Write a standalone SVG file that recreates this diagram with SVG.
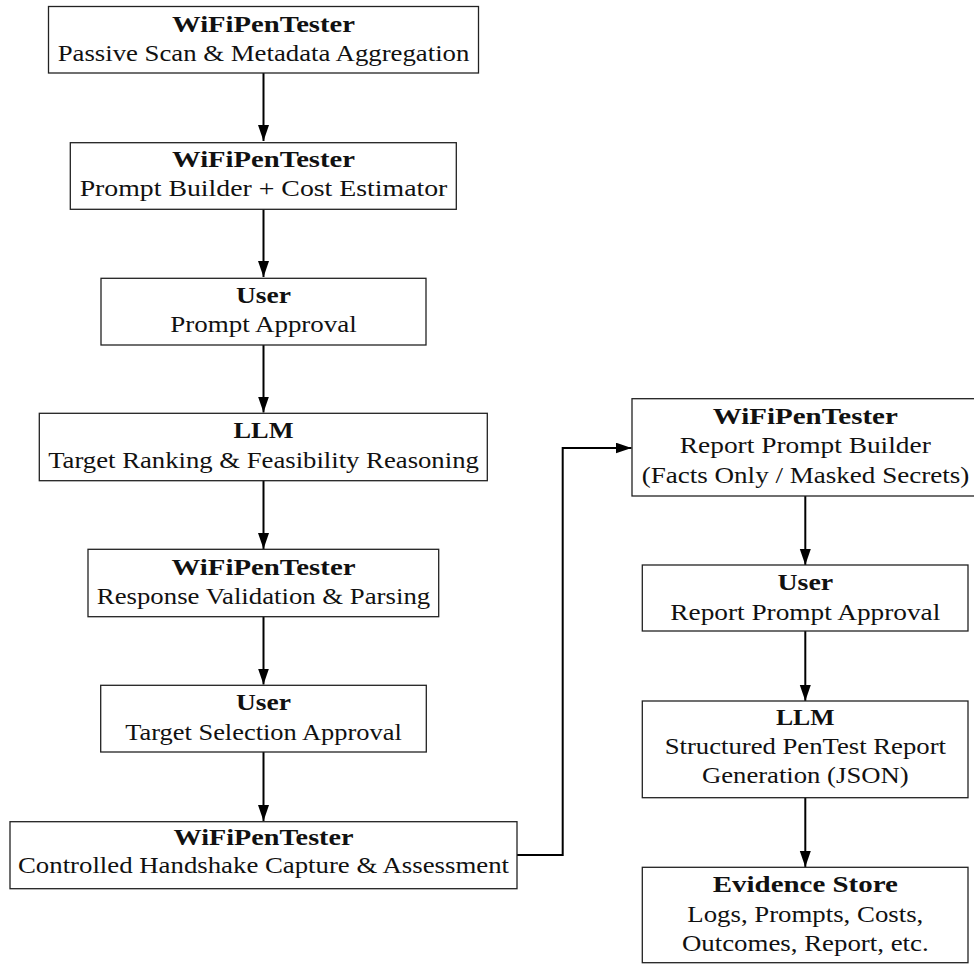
<svg xmlns="http://www.w3.org/2000/svg" width="974" height="965" viewBox="0 0 974 965">
<style>
.box{fill:#fff;stroke:#222;stroke-width:1.3}
.t{font-family:"Liberation Serif","Times New Roman",serif;font-size:24px;fill:#111;text-anchor:middle}
.b{font-weight:bold}
.arr{fill:none;stroke:#000;stroke-width:2}
</style>
<defs>
<marker id="ah" markerUnits="userSpaceOnUse" markerWidth="16" markerHeight="12" refX="16" refY="5.5" orient="auto">
<path d="M0,0 L16,5.5 L0,11 z" fill="#000"/>
</marker>
</defs>
<rect width="974" height="965" fill="#fff"/>
<g id="connectors">
<line class="arr" x1="263.5" y1="73" x2="263.5" y2="141" marker-end="url(#ah)"/>
<line class="arr" x1="263.5" y1="209.3" x2="263.5" y2="277" marker-end="url(#ah)"/>
<line class="arr" x1="263.5" y1="345" x2="263.5" y2="412.5" marker-end="url(#ah)"/>
<line class="arr" x1="263.5" y1="480.7" x2="263.5" y2="549" marker-end="url(#ah)"/>
<line class="arr" x1="263.5" y1="616.7" x2="263.5" y2="684.5" marker-end="url(#ah)"/>
<line class="arr" x1="263.5" y1="752" x2="263.5" y2="821" marker-end="url(#ah)"/>
<polyline class="arr" points="517,855 562.7,855 562.7,448 631.5,448" marker-end="url(#ah)"/>
<line class="arr" x1="805.3" y1="496" x2="805.3" y2="565" marker-end="url(#ah)"/>
<line class="arr" x1="805.3" y1="631" x2="805.3" y2="701" marker-end="url(#ah)"/>
<line class="arr" x1="805.3" y1="797.7" x2="805.3" y2="867" marker-end="url(#ah)"/>
</g>
<g id="n1">
<rect class="box" x="48.5" y="6.5" width="430" height="66.5"/>
<text class="t b" x="263.5" y="32" textLength="183" lengthAdjust="spacingAndGlyphs">WiFiPenTester</text>
<text class="t" x="263.5" y="61" textLength="411.7" lengthAdjust="spacingAndGlyphs">Passive Scan &amp; Metadata Aggregation</text>
</g>
<g id="n2">
<rect class="box" x="70.3" y="142.7" width="386" height="66.6"/>
<text class="t b" x="263.5" y="166.7" textLength="183" lengthAdjust="spacingAndGlyphs">WiFiPenTester</text>
<text class="t" x="263.5" y="196" textLength="367.7" lengthAdjust="spacingAndGlyphs">Prompt Builder + Cost Estimator</text>
</g>
<g id="n3">
<rect class="box" x="101" y="278.3" width="325" height="66.7"/>
<text class="t b" x="263.5" y="303.3" textLength="55" lengthAdjust="spacingAndGlyphs">User</text>
<text class="t" x="263.5" y="331.7" textLength="186.7" lengthAdjust="spacingAndGlyphs">Prompt Approval</text>
</g>
<g id="n4">
<rect class="box" x="39.3" y="413.3" width="448" height="67.4"/>
<text class="t b" x="263.5" y="438.3" textLength="60" lengthAdjust="spacingAndGlyphs">LLM</text>
<text class="t" x="263.5" y="467.5" textLength="430.7" lengthAdjust="spacingAndGlyphs">Target Ranking &amp; Feasibility Reasoning</text>
</g>
<g id="n5">
<rect class="box" x="88" y="549.3" width="350.7" height="67.4"/>
<text class="t b" x="263.5" y="575" textLength="184" lengthAdjust="spacingAndGlyphs">WiFiPenTester</text>
<text class="t" x="263.5" y="604" textLength="333.3" lengthAdjust="spacingAndGlyphs">Response Validation &amp; Parsing</text>
</g>
<g id="n6">
<rect class="box" x="100.7" y="685.3" width="325.6" height="66.7"/>
<text class="t b" x="263.5" y="710" textLength="55" lengthAdjust="spacingAndGlyphs">User</text>
<text class="t" x="263.5" y="740" textLength="276.7" lengthAdjust="spacingAndGlyphs">Target Selection Approval</text>
</g>
<g id="n7">
<rect class="box" x="10" y="821.7" width="507" height="67"/>
<text class="t b" x="263.5" y="845" textLength="180" lengthAdjust="spacingAndGlyphs">WiFiPenTester</text>
<text class="t" x="263.5" y="873.3" textLength="491" lengthAdjust="spacingAndGlyphs">Controlled Handshake Capture &amp; Assessment</text>
</g>
<g id="r1">
<rect class="box" x="632" y="398.7" width="346.6" height="97.3"/>
<text class="t b" x="805.3" y="424" textLength="185" lengthAdjust="spacingAndGlyphs">WiFiPenTester</text>
<text class="t" x="805.3" y="453.3" textLength="251" lengthAdjust="spacingAndGlyphs">Report Prompt Builder</text>
<text class="t" x="805.5" y="482.7" textLength="327.7" lengthAdjust="spacingAndGlyphs">(Facts Only / Masked Secrets)</text>
</g>
<g id="r2">
<rect class="box" x="642.3" y="565" width="325.7" height="66"/>
<text class="t b" x="805.3" y="590" textLength="55.7" lengthAdjust="spacingAndGlyphs">User</text>
<text class="t" x="805.3" y="620" textLength="270" lengthAdjust="spacingAndGlyphs">Report Prompt Approval</text>
</g>
<g id="r3">
<rect class="box" x="642.3" y="701" width="325.7" height="96.7"/>
<text class="t b" x="805.3" y="725.3" textLength="58.7" lengthAdjust="spacingAndGlyphs">LLM</text>
<text class="t" x="805.3" y="754" textLength="281.3" lengthAdjust="spacingAndGlyphs">Structured PenTest Report</text>
<text class="t" x="805.3" y="783.3" textLength="206.7" lengthAdjust="spacingAndGlyphs">Generation (JSON)</text>
</g>
<g id="r4">
<rect class="box" x="642.3" y="867.3" width="325.7" height="95.4"/>
<text class="t b" x="805.3" y="891.7" textLength="185" lengthAdjust="spacingAndGlyphs">Evidence Store</text>
<text class="t" x="805.3" y="921.5" textLength="236" lengthAdjust="spacingAndGlyphs">Logs, Prompts, Costs,</text>
<text class="t" x="805.3" y="950.7" textLength="246.7" lengthAdjust="spacingAndGlyphs">Outcomes, Report, etc.</text>
</g>
</svg>
